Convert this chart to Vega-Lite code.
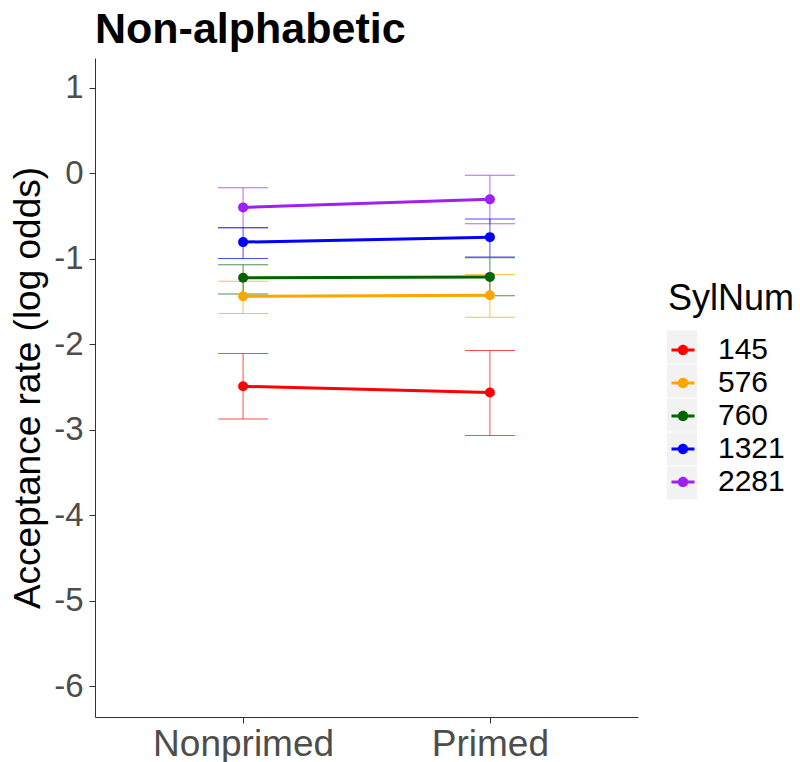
{
  "$schema": "https://vega.github.io/schema/vega-lite/v6.json",
  "width": 543,
  "height": 659,
  "autosize": "none",
  "padding": {"left": 95, "top": 58, "right": 162, "bottom": 45},
  "background": "white",
  "title": {
    "text": "Non-alphabetic",
    "anchor": "start",
    "frame": "group",
    "font": "Liberation Sans",
    "fontSize": 43,
    "fontWeight": "bold",
    "color": "black",
    "baseline": "alphabetic",
    "offset": 16,
    "dy": 44
  },
  "config": {
    "view": {"stroke": null},
    "font": "Liberation Sans",
    "axis": {
      "grid": false,
      "domainColor": "#333333",
      "domainWidth": 1,
      "tickColor": "#333333",
      "tickWidth": 1,
      "tickSize": 6,
      "labelColor": "#4D4D4D",
      "labelFont": "Liberation Sans",
      "titleFont": "Liberation Sans",
      "titleColor": "black",
      "titleFontWeight": "normal"
    }
  },
  "data": {
    "values": [
      {"cond": "Nonprimed", "SylNum": "145", "est": -2.491, "lo": -2.874, "hi": -2.108},
      {"cond": "Nonprimed", "SylNum": "576", "est": -1.437, "lo": -1.639, "hi": -1.261},
      {"cond": "Nonprimed", "SylNum": "760", "est": -1.222, "lo": -1.41, "hi": -1.07},
      {"cond": "Nonprimed", "SylNum": "1321", "est": -0.804, "lo": -0.995, "hi": -0.637},
      {"cond": "Nonprimed", "SylNum": "2281", "est": -0.398, "lo": -0.637, "hi": -0.169},
      {"cond": "Primed", "SylNum": "145", "est": -2.564, "lo": -3.068, "hi": -2.073},
      {"cond": "Primed", "SylNum": "576", "est": -1.425, "lo": -1.683, "hi": -1.183},
      {"cond": "Primed", "SylNum": "760", "est": -1.211, "lo": -1.433, "hi": -0.988},
      {"cond": "Primed", "SylNum": "1321", "est": -0.746, "lo": -0.977, "hi": -0.535},
      {"cond": "Primed", "SylNum": "2281", "est": -0.304, "lo": -0.59, "hi": -0.023}
    ]
  },
  "encoding": {
    "x": {
      "field": "cond",
      "type": "nominal",
      "scale": {"type": "point", "padding": 0.6},
      "axis": {"title": null, "labelAngle": 0, "labelFontSize": 37, "labelPadding": 3, "labelLimit": 0}
    },
    "color": {
      "field": "SylNum",
      "type": "nominal",
      "scale": {
        "domain": ["145", "576", "760", "1321", "2281"],
        "range": ["#FF0000", "#FFA500", "#006400", "#0000FF", "#A020F0"]
      },
      "legend": {
        "title": "SylNum",
        "orient": "none",
        "legendX": 573,
        "legendY": 224,
        "zindex": 2,
        "titleFontSize": 36,
        "titleFontWeight": "normal",
        "titleColor": "black",
        "titlePadding": 17,
        "labelFontSize": 30,
        "labelColor": "black",
        "labelOffset": 20,
        "rowPadding": 3,
        "symbolType": "M-1,-0.13L1,-0.13L1,0.13L-1,0.13Z M-0.45,0A0.45,0.45,0,1,1,0.45,0A0.45,0.45,0,1,1,-0.45,0Z",
        "symbolSize": 529,
        "symbolStrokeWidth": 0,
        "symbolOpacity": 1
      }
    }
  },
  "layer": [
    {
      "mark": {"type": "point", "filled": true, "opacity": 0},
      "encoding": {
        "y": {"field": "est", "type": "quantitative"},
        "color": {"value": "#F2F2F2"},
        "size": {
          "field": "est",
          "type": "quantitative",
          "scale": {"range": [900, 900], "zero": false},
          "legend": {
            "title": null,
            "orient": "none",
            "legendX": 572,
            "legendY": 274,
            "zindex": 0,
            "values": [-2.5, -2, -1.5, -1, -0.5],
            "labelExpr": "''",
            "labelFontSize": 1,
            "labelOffset": 0,
            "rowPadding": 0,
            "symbolType": "M-1,-1.1L1,-1.1L1,1.1L-1,1.1Z",
            "symbolFillColor": "#F2F2F2",
            "symbolStrokeWidth": 0,
            "symbolOpacity": 1,
            "encode": {
              "symbols": {
                "update": {
                  "fill": {"value": "#F2F2F2"},
                  "stroke": {"value": "transparent"},
                  "opacity": {"value": 1},
                  "size": {"value": 900}
                }
              }
            }
          }
        }
      }
    },
    {
      "mark": {"type": "rule", "strokeWidth": 1, "opacity": 0.7},
      "encoding": {
        "y": {"field": "lo", "type": "quantitative"},
        "y2": {"field": "hi"}
      }
    },
    {
      "mark": {"type": "tick", "size": 50, "thickness": 1, "opacity": 0.7},
      "encoding": {"y": {"field": "lo", "type": "quantitative"}}
    },
    {
      "mark": {"type": "tick", "size": 50, "thickness": 1, "opacity": 0.7},
      "encoding": {"y": {"field": "hi", "type": "quantitative"}}
    },
    {
      "mark": {"type": "line", "strokeWidth": 3},
      "encoding": {
        "y": {
          "field": "est",
          "type": "quantitative",
          "scale": {"domain": [-6.36, 1.35], "nice": false, "zero": false},
          "axis": {
            "title": "Acceptance rate (log odds)",
            "titleFontSize": 37,
            "titlePadding": 6,
            "labelFontSize": 33,
            "labelPadding": 6,
            "values": [-6, -5, -4, -3, -2, -1, 0, 1],
            "labelExpr": "(datum.value < 0 ? '-' : '') + abs(datum.value)"
          }
        }
      }
    },
    {
      "mark": {"type": "point", "filled": true, "size": 100, "opacity": 1},
      "encoding": {"y": {"field": "est", "type": "quantitative"}}
    }
  ]
}
